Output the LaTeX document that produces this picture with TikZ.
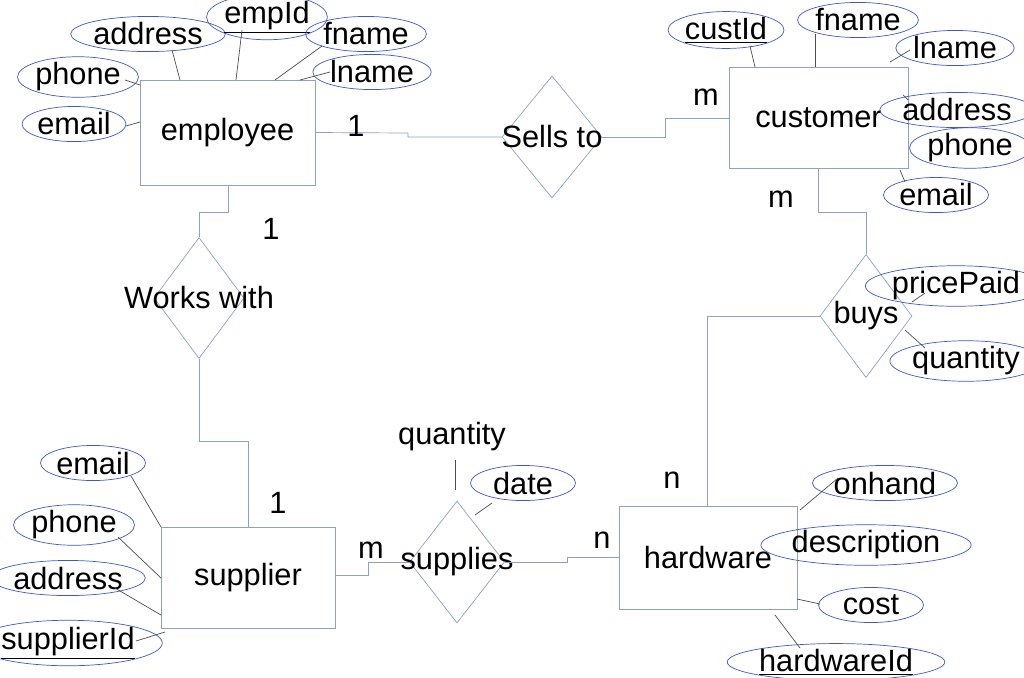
\documentclass[tikz,border=0pt]{standalone}
\usepackage{fontspec}
\setmainfont{Liberation Sans}
\usetikzlibrary{shapes.geometric}
\definecolor{lc}{RGB}{140,160,200}
\definecolor{ec}{RGB}{60,90,200}
\begin{document}
\begin{tikzpicture}[x=0.02cm,y=-0.02cm,font=\fontsize{17.5}{20}\selectfont,
 ent/.style={draw=lc,minimum width=#1},
 rel/.style={draw=lc,diamond,aspect=0.8,inner sep=0pt},
 att/.style={draw=ec,ellipse,inner sep=0pt,minimum height=20},
 con/.style={draw=lc},
 al/.style={draw=black!70,line width=0.4pt},
 card/.style={inner sep=0pt}]
\useasboundingbox (0,0) rectangle (1024,677);
% entities
\node[draw=lc,minimum width=3.5cm,minimum height=2.1cm] (emp) at (227.5,132.5) {employee};
\node[draw=lc,minimum width=3.58cm,minimum height=2.02cm] (cus) at (818.5,117.5) {customer};
\node[draw=lc,minimum width=3.48cm,minimum height=2.02cm] (sup) at (248,577.5) {supplier};
\node[draw=lc,minimum width=3.56cm,minimum height=2.06cm] (hw) at (708,557.5) {hardware};
% relationships
\node[draw=lc,diamond,minimum width=2cm,minimum height=2.44cm,inner sep=0pt] (sells) at (552,137) {};
\node at (552,137) {Sells to};
\node[draw=lc,diamond,minimum width=1.8cm,minimum height=2.42cm,inner sep=0pt] (works) at (199,298) {};
\node at (199,298) {Works with};
\node[draw=lc,diamond,minimum width=1.84cm,minimum height=2.46cm,inner sep=0pt] (buys) at (866,316) {};
\node at (866,316) {buys};
\node[draw=lc,diamond,minimum width=1.9cm,minimum height=2.44cm,inner sep=0pt] (supp) at (457,562) {};
\node at (457,562) {supplies};
% connectors
\draw[con] (emp.east) -- (408,133) -- (408,137) -- (sells.west);
\draw[con] (cus.west |- 0,118) -- (665,118) -- (665,137) -- (sells.east);
\draw[con] (818,168) -- (818,212) -- (866,212) -- (buys.north);
\draw[con] (buys.west) -- (707,316) -- (707,506);
\draw[con] (228,185) -- (228,212) -- (199,212) -- (works.north);
\draw[con] (works.south) -- (199,441) -- (248,441) -- (248,527);
\draw[con] (335,575) -- (368,575) -- (368,562) -- (supp.west);
\draw[con] (supp.east) -- (567,562) -- (567,557) -- (619,557);
% cardinalities
\node[card] at (356,126) {1};
\node[card] at (706,97) {m};
\node[card] at (781,199) {m};
\node[card] at (271,229) {1};
\node[card] at (278,503) {1};
\node[card] at (371,550) {m};
\node[card] at (602,540) {n};
\node[card] at (672,480) {n};
% employee attributes
\node[att,minimum width=1.7cm] (a1) at (148,34) {address};
\node[att,minimum width=1.9cm] (a2) at (267,17) {\underline{empId}};
\node[att,minimum width=1.9cm] (a3) at (366,34) {fname};
\node[att,minimum width=2cm] (a4) at (372,72) {lname};
\node[att,minimum width=1.9cm] (a5) at (78,77) {phone};
\node[att,minimum width=2cm] (a6) at (74,124) {email};
\draw[al] (172,50) -- (180,80);
\draw[al] (242,30) -- (236,80);
\draw[al] (322,46) -- (275,80);
\draw[al] (330,72) -- (300,80);
\draw[al] (125,80) -- (140,85);
\draw[al] (126,126) -- (140,122);
% customer attributes
\node[att,minimum width=2.1cm] (c1) at (726,30) {\underline{custId}};
\node[att,minimum width=1.9cm] (c2) at (858,20) {fname};
\node[att,minimum width=2.1cm] (c3) at (955,48) {lname};
\node[att,minimum width=1.7cm] (c4) at (957,110) {address};
\node[att,minimum width=2.1cm] (c5) at (970,148) {phone};
\node[att,minimum width=2.1cm] (c6) at (936,195) {email};
\draw[al] (750,46) -- (755,67);
\draw[al] (815,34) -- (815,67);
\draw[al] (910,50) -- (890,62);
\draw[al] (908,100) -- (903,95);
\draw[al] (900,170) -- (905,182);
% buys attributes
\node[att,minimum width=2.2cm] (b1) at (956,286) {pricePaid};
\node[att,minimum width=2.2cm] (b2) at (966,361) {quantity};
\draw[al] (912,302) -- (925,293);
\draw[al] (905,330) -- (925,348);
% supplies attributes
\node (s1) at (452,437) {quantity};
\node[att,minimum width=2.1cm] (s2) at (523,483) {date};
\draw[al] (455,460) -- (455,490);
\draw[al] (492,503) -- (475,515);
% supplier attributes
\node[att,minimum width=2.1cm] (p1) at (93,463) {email};
\node[att,minimum width=1.9cm] (p2) at (74,525) {phone};
\node[att,minimum width=1.6cm] (p3) at (68,578) {address};
\node[att,minimum width=2.7cm] (p4) at (68,643) {\underline{supplierId}};
\draw[al] (131,476) -- (161,527);
\draw[al] (118,537) -- (161,578);
\draw[al] (115,588) -- (161,615);
\draw[al] (136,641) -- (165,632);
% hardware attributes
\node[att,minimum width=2.1cm] (h1) at (885,483) {onhand};
\node[att,minimum width=2.5cm] (h2) at (866,545) {description};
\node[att,minimum width=2.1cm] (h3) at (871,605) {cost};
\node[att,minimum width=3.1cm] (h4) at (836,662) {\underline{hardwareId}};
\draw[al] (838,478) -- (800,510);
\draw[al] (820,604) -- (797,599);
\draw[al] (800,648) -- (775,615);
\end{tikzpicture}
\end{document}
